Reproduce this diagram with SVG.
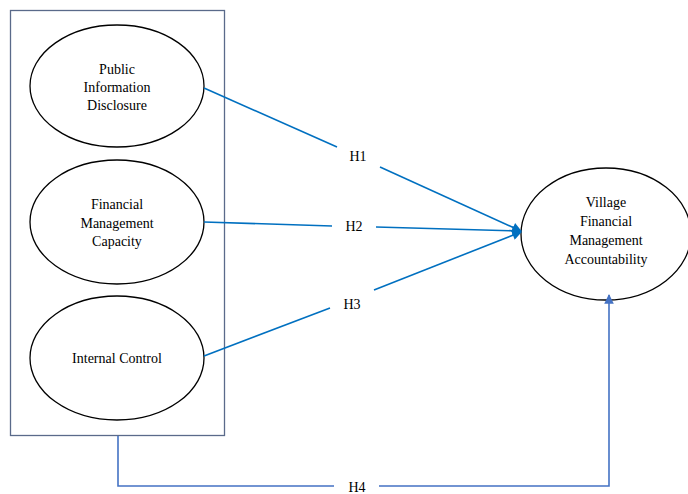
<svg xmlns="http://www.w3.org/2000/svg" width="688" height="494" viewBox="0 0 688 494">
<style>
.n{fill:#fff;stroke:#000;stroke-width:1.3}
.t{font-family:"Liberation Serif","Times New Roman",serif;font-size:14px;fill:#000;text-anchor:middle}
.c{fill:none;stroke:#0070C0;stroke-width:1.6}
.c4{fill:none;stroke:#4472C4;stroke-width:1.6}
</style>
<defs>
<marker id="ah" viewBox="0 0 10 10" refX="9" refY="5" markerWidth="6.5" markerHeight="6" orient="auto" markerUnits="strokeWidth"><path d="M0,0 L10,5 L0,10 z" fill="#0070C0"/></marker>
<marker id="ah4" viewBox="0 0 10 10" refX="9" refY="5" markerWidth="6" markerHeight="6" orient="auto" markerUnits="strokeWidth"><path d="M0,0 L10,5 L0,10 z" fill="#4472C4"/></marker>
</defs>
<rect id="group-box" x="10.5" y="10.5" width="214" height="425" fill="#fff" stroke="#5A6A8A" stroke-width="1.3"/>
<g id="pid"><ellipse class="n" cx="117" cy="86" rx="87" ry="61"/>
<text class="t" x="117" y="74">Public</text><text class="t" x="117" y="92">Information</text><text class="t" x="117" y="110">Disclosure</text></g>
<g id="fmc"><ellipse class="n" cx="117" cy="222" rx="87" ry="62"/>
<text class="t" x="117" y="209">Financial</text><text class="t" x="117" y="228">Management</text><text class="t" x="117" y="246">Capacity</text></g>
<g id="ic"><ellipse class="n" cx="117" cy="358" rx="87" ry="62"/>
<text class="t" x="117" y="363">Internal Control</text></g>
<g id="vfma"><ellipse class="n" cx="606" cy="234" rx="85" ry="66"/>
<text class="t" x="606" y="207">Village</text><text class="t" x="606" y="226">Financial</text><text class="t" x="606" y="245">Management</text><text class="t" x="606" y="264">Accountability</text></g>
<g id="connectors">
<line class="c" x1="204" y1="88" x2="337" y2="147"/>
<line class="c" x1="380" y1="167" x2="521" y2="231" marker-end="url(#ah)"/>
<line class="c" x1="204" y1="222" x2="332" y2="226"/>
<line class="c" x1="376" y1="227" x2="521" y2="231" marker-end="url(#ah)"/>
<line class="c" x1="204" y1="356" x2="330" y2="308"/>
<line class="c" x1="374" y1="290" x2="521" y2="232" marker-end="url(#ah)"/>
<polyline class="c4" points="118,436 118,486 334,486"/>
<polyline class="c4" points="379,486 609,486 609,295" marker-end="url(#ah4)"/>
<text class="t" x="358" y="161">H1</text>
<text class="t" x="354" y="231">H2</text>
<text class="t" x="352" y="309">H3</text>
<text class="t" x="357" y="492">H4</text>
</g>
</svg>
